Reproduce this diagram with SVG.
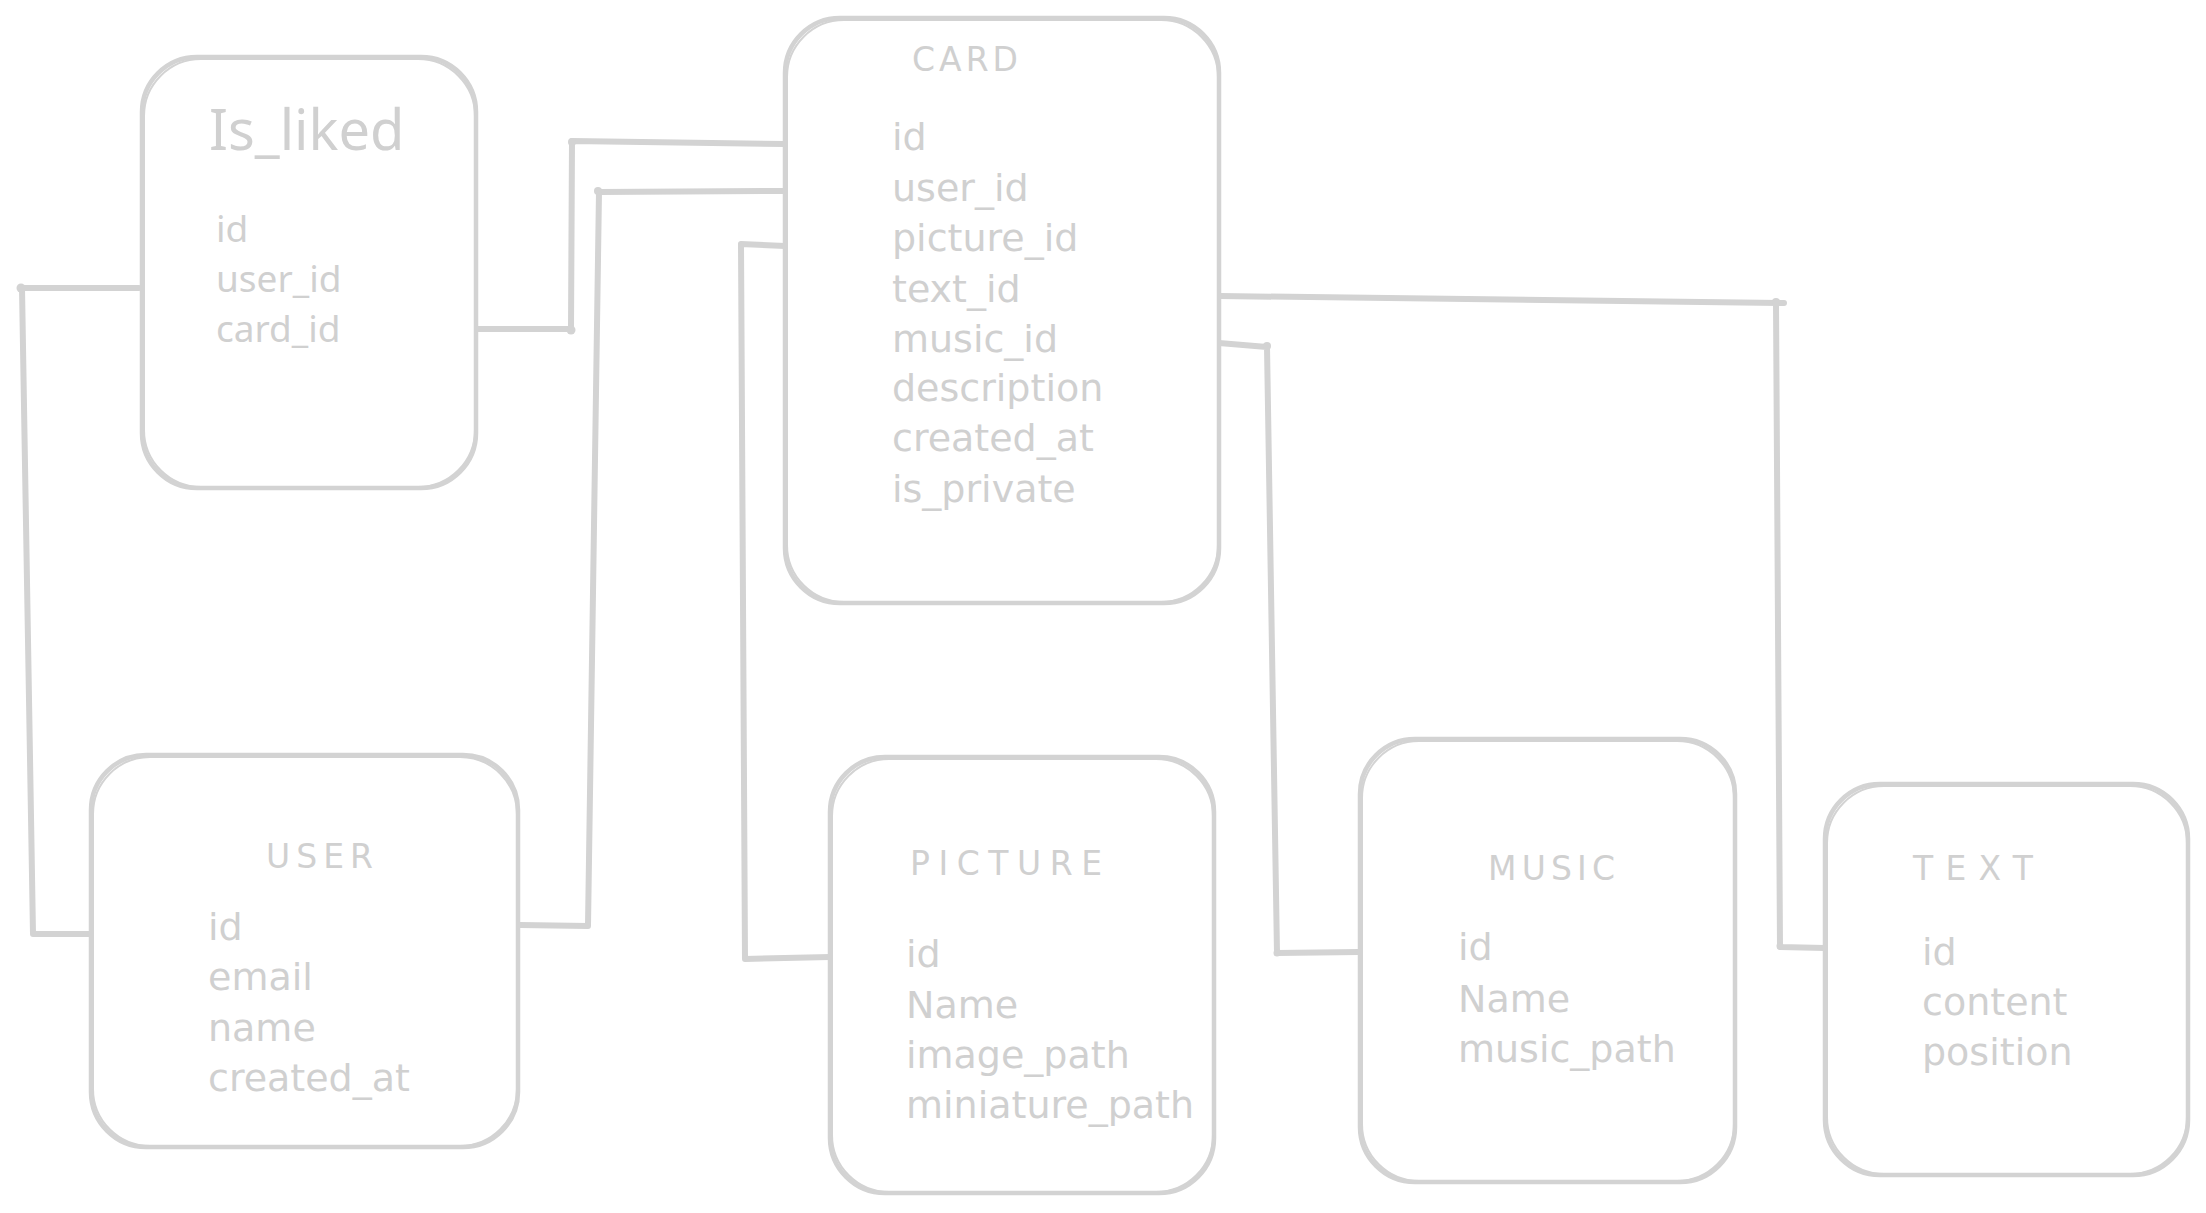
<svg xmlns="http://www.w3.org/2000/svg" width="2206" height="1213" viewBox="0 0 2206 1213">
<style>
.box{fill:#ffffff;stroke:#d3d3d3;stroke-width:4.5}
.sk{fill:none;stroke:#d3d3d3;stroke-width:2}
.conn{fill:none;stroke:#d3d3d3;stroke-width:6;stroke-linecap:round;stroke-linejoin:round}
.dot{fill:#d3d3d3}
.f{fill:#d0d0d0;font-family:"DejaVu Sans","Liberation Sans",sans-serif;font-size:38px}
.h{fill:#d0d0d0;font-family:"DejaVu Sans","Liberation Sans",sans-serif;font-size:33px}
.n{fill:#d0d0d0;font-family:"Noto Sans","Open Sans",sans-serif;font-size:37px}
.nt{fill:#d0d0d0;font-family:"Noto Sans","Open Sans",sans-serif;font-size:56px}
</style>
<rect x="0" y="0" width="2206" height="1213" fill="#ffffff"/>
<g id="connectors">
  <polyline class="conn" points="139,288 22,288 33,934 89,934"/>
  <polyline class="conn" points="478,329 571,329 572,141 785,144"/>
  <polyline class="conn" points="520,925 588,926 599,192 785,191"/>
  <polyline class="conn" points="785,246 741,244 745,959 830,957"/>
  <polyline class="conn" points="1220,296 1784,303"/>
  <polyline class="conn" points="1776,303 1780,947 1825,948"/>
  <polyline class="conn" points="1219,343 1267,347 1277,953 1359,952"/>
  <circle class="dot" cx="21" cy="288" r="4.5"/>
  <circle class="dot" cx="571" cy="330" r="4.5"/>
  <circle class="dot" cx="572" cy="142" r="4"/>
  <circle class="dot" cx="598" cy="191" r="4"/>
  <circle class="dot" cx="1776" cy="302" r="4"/>
  <circle class="dot" cx="1267" cy="346" r="4"/>
  <circle class="dot" cx="1277" cy="953" r="3.5"/>
  <circle class="dot" cx="1780" cy="946" r="3.5"/>
</g>
<g id="is_liked">
  <rect class="box" x="142" y="57" width="334" height="431" rx="55"/>
  <rect class="sk" x="144" y="59" width="331" height="428" rx="57"/>
  <text class="nt" x="209" y="150">Is_liked</text>
  <text class="n" x="216" y="242">id</text>
  <text class="n" x="216" y="292">user_id</text>
  <text class="n" x="216" y="342">card_id</text>
</g>
<g id="card">
  <rect class="box" x="785" y="18" width="434" height="585" rx="55"/>
  <rect class="sk" x="787" y="20" width="431" height="582" rx="57"/>
  <text class="h" x="912" y="71" textLength="106" lengthAdjust="spacing">CARD</text>
  <text class="f" x="892" y="150">id</text>
  <text class="f" x="892" y="201">user_id</text>
  <text class="f" x="892" y="251">picture_id</text>
  <text class="f" x="892" y="302">text_id</text>
  <text class="f" x="892" y="352">music_id</text>
  <text class="f" x="892" y="401">description</text>
  <text class="f" x="892" y="451">created_at</text>
  <text class="f" x="892" y="502">is_private</text>
</g>
<g id="user">
  <rect class="box" x="91" y="755" width="427" height="392" rx="55"/>
  <rect class="sk" x="93" y="757" width="424" height="389" rx="57"/>
  <text class="h" x="266" y="868" textLength="107" lengthAdjust="spacing">USER</text>
  <text class="f" x="208" y="940">id</text>
  <text class="f" x="208" y="990">email</text>
  <text class="f" x="208" y="1041">name</text>
  <text class="f" x="208" y="1091">created_at</text>
</g>
<g id="picture">
  <rect class="box" x="830" y="757" width="384" height="436" rx="55"/>
  <rect class="sk" x="832" y="759" width="381" height="433" rx="57"/>
  <text class="h" x="910" y="875" textLength="192" lengthAdjust="spacing">PICTURE</text>
  <text class="f" x="906" y="967">id</text>
  <text class="f" x="906" y="1018">Name</text>
  <text class="f" x="906" y="1068">image_path</text>
  <text class="f" x="906" y="1118">miniature_path</text>
</g>
<g id="music">
  <rect class="box" x="1360" y="739" width="375" height="443" rx="55"/>
  <rect class="sk" x="1362" y="741" width="372" height="440" rx="57"/>
  <text class="h" x="1488" y="880" textLength="127" lengthAdjust="spacing">MUSIC</text>
  <text class="f" x="1458" y="960">id</text>
  <text class="f" x="1458" y="1012">Name</text>
  <text class="f" x="1458" y="1062">music_path</text>
</g>
<g id="text">
  <rect class="box" x="1825" y="784" width="363" height="391" rx="55"/>
  <rect class="sk" x="1827" y="786" width="360" height="388" rx="57"/>
  <text class="h" x="1913" y="880" textLength="120" lengthAdjust="spacing">TEXT</text>
  <text class="f" x="1922" y="965">id</text>
  <text class="f" x="1922" y="1015">content</text>
  <text class="f" x="1922" y="1065">position</text>
</g>
</svg>
